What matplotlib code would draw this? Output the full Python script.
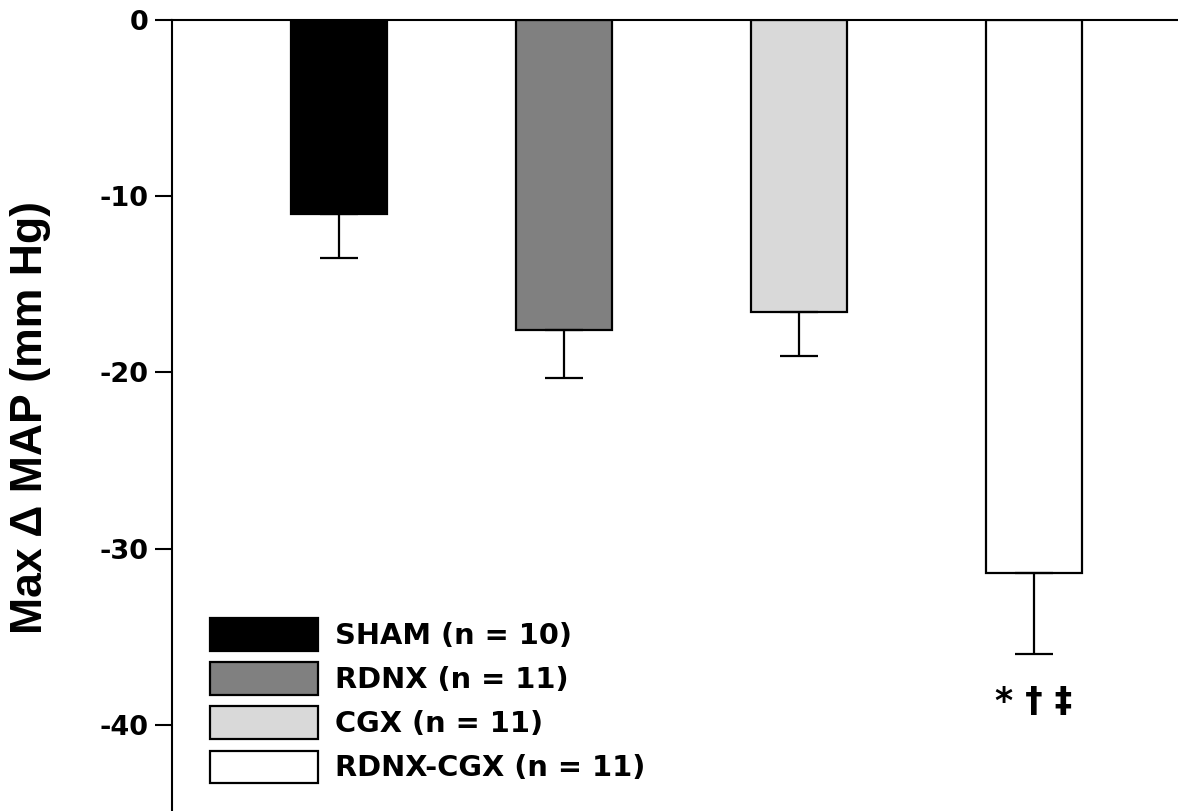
import matplotlib
matplotlib.use("Agg")
import matplotlib.pyplot as plt
from matplotlib import font_manager as fm
from matplotlib.patches import Patch

# group means and SEM of the max fall in MAP
groups = ["SHAM", "RDNX", "CGX", "RDNX-CGX"]
n_rats = [10, 11, 11, 11]
max_dmap = [-11.0, -17.6, -16.6, -31.4]
sem = [2.5, 2.7, 2.5, 4.6]
y_ticks = [0, -10, -20, -30, -40]
sig_marks = "* \u2020 \u2021"

colors = ["#000000", "#808080", "#d9d9d9", "#ffffff"]
xpos = [1.0, 1.957, 2.957, 3.957]

# plain (not narrow) Liberation Sans Bold for the axis title
lab_font = None
for f in fm.findSystemFonts():
    if f.endswith("LiberationSans-Bold.ttf"):
        lab_font = fm.FontProperties(fname=f, size=32)
        break
if lab_font is None:
    lab_font = fm.FontProperties(family="DejaVu Sans", weight="bold", size=28)

fig = plt.figure(figsize=(11.78, 8.11), dpi=100)
ax = fig.add_axes([172 / 1178, 0, 1 - 172 / 1178, 791 / 811])

bars = ax.bar(xpos, max_dmap, width=0.41, color=colors, edgecolor="black",
              linewidth=1.6, zorder=2)

# only the downward half of the error bar is drawn
zeros = [0] * len(sem)
ax.errorbar(xpos, max_dmap, yerr=[sem, zeros], fmt="none", ecolor="black",
            elinewidth=1.6, capsize=13.5, capthick=1.6, zorder=3)

ax.text(xpos[3], max_dmap[3] - sem[3] - 2.7, sig_marks, ha="center",
        va="center", fontsize=25, fontweight="bold", family="DejaVu Sans")

ax.set_xlim(0.289, 4.57)
ax.set_ylim(-44.9, 0)
ax.set_xticks([])
ax.set_yticks(y_ticks)
ax.set_yticklabels([str(t) for t in y_ticks], fontsize=19.5,
                   fontweight="bold", family="DejaVu Sans")
ax.tick_params(axis="y", direction="out", length=12, width=1.5, pad=5)

for s in ["bottom", "right"]:
    ax.spines[s].set_visible(False)
for s in ["left", "top"]:
    ax.spines[s].set_linewidth(1.5)
    ax.spines[s].set_clip_on(False)

fig.text(31 / 1178, 1 - 417 / 811, "Max \u0394 MAP (mm Hg)", rotation=90,
         ha="center", va="center", fontproperties=lab_font)

handles = [Patch(facecolor=c, edgecolor="black", linewidth=1.6) for c in colors]
labels = [f"{g} (n = {n})" for g, n in zip(groups, n_rats)]
ax.legend(handles, labels, loc="upper left",
          bbox_to_anchor=(210 / 1178, 1 - 618 / 811),
          bbox_transform=fig.transFigure, frameon=False,
          prop={"family": "DejaVu Sans", "weight": "bold", "size": 20.8},
          handlelength=3.75, handleheight=1.36, handletextpad=0.58,
          labelspacing=0.40, borderpad=0, borderaxespad=0)

fig.savefig("out.png", dpi=100)
